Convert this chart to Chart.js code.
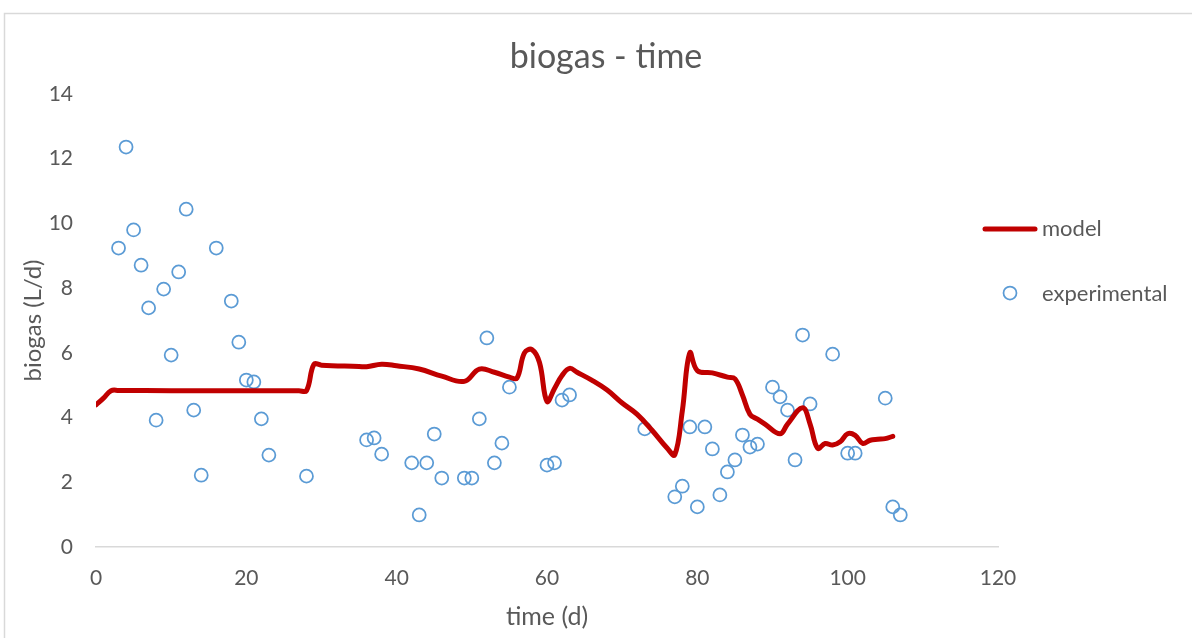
<!DOCTYPE html>
<html>
<head>
<meta charset="utf-8">
<title>biogas - time</title>
<script src="https://cdn.jsdelivr.net/npm/chart.js@4.4.1/dist/chart.umd.min.js"></script>
<style>
  html, body { margin: 0; padding: 0; background: #ffffff; }
  #chart { display: block; }
</style>
</head>
<body>
<canvas id="chart" width="1192" height="638"></canvas>
<script>
// Model curve (smoothed line)
const modelDays = [0, 1, 2, 3, 10, 20, 27, 28, 29, 30, 35, 36, 38, 40, 43, 46, 49, 51, 53, 55, 56, 57, 58, 59, 60, 61, 62, 63, 64, 66, 68, 70, 72, 74, 76, 77, 78, 79, 80, 82, 84, 85, 86, 87, 88, 89, 91, 92, 94, 95, 96, 97, 98, 99, 100, 101, 102, 103, 104, 105, 106];
const modelBiogas = [4.39, 4.6, 4.83, 4.84, 4.83, 4.83, 4.83, 4.83, 5.65, 5.62, 5.58, 5.57, 5.65, 5.6, 5.5, 5.28, 5.12, 5.5, 5.4, 5.25, 5.22, 6.0, 6.1, 5.7, 4.5, 4.9, 5.3, 5.52, 5.4, 5.15, 4.85, 4.45, 4.1, 3.6, 3.05, 2.85, 4.2, 6.0, 5.45, 5.38, 5.25, 5.2, 4.7, 4.1, 3.95, 3.8, 3.5, 3.8, 4.3, 3.8, 3.05, 3.2, 3.15, 3.25, 3.5, 3.45, 3.2, 3.3, 3.33, 3.35, 3.42];

// Experimental measurements
const expDays = [3, 4, 5, 6, 7, 8, 9, 10, 11, 12, 13, 14, 16, 18, 19, 20, 21, 22, 23, 28, 36, 37, 38, 42, 43, 44, 45, 46, 49, 50, 51, 52, 53, 54, 55, 60, 61, 62, 63, 73, 77, 78, 79, 80, 81, 82, 83, 84, 85, 86, 87, 88, 90, 91, 92, 93, 94, 95, 98, 100, 101, 105, 106, 107];
const expBiogas = [9.24, 12.36, 9.8, 8.71, 7.39, 3.92, 7.97, 5.93, 8.5, 10.44, 4.23, 2.22, 9.24, 7.6, 6.33, 5.16, 5.1, 3.96, 2.84, 2.19, 3.31, 3.37, 2.87, 2.6, 0.99, 2.6, 3.49, 2.13, 2.13, 2.13, 3.96, 6.46, 2.6, 3.21, 4.94, 2.53, 2.6, 4.54, 4.7, 3.65, 1.55, 1.88, 3.71, 1.24, 3.71, 3.03, 1.61, 2.32, 2.69, 3.46, 3.09, 3.18, 4.94, 4.64, 4.23, 2.69, 6.55, 4.42, 5.96, 2.9, 2.9, 4.6, 1.24, 0.99];

const xTicks = [0, 20, 40, 60, 80, 100, 120];
const yTicks = [0, 2, 4, 6, 8, 10, 12, 14];

const textGray = '#595959';
const lineRed = '#C00000';
const pointBlue = '#5B9BD5';
const fontFamily = 'Lato, "Open Sans", sans-serif';

// Outer frame, title and right-hand legend
const frameAndLegend = {
    id: 'frameAndLegend',
    beforeInit(chart) {
        // a tiny letter spacing keeps "ti" from being drawn as a ligature
        chart.ctx.letterSpacing = '0.2px';
    },
    beforeDraw(chart) {
        const ctx = chart.ctx;
        ctx.save();
        ctx.strokeStyle = '#d9d9d9';
        ctx.lineWidth = 1.5;
        ctx.beginPath();
        ctx.moveTo(4.5, chart.height);
        ctx.lineTo(4.5, 13.5);
        ctx.lineTo(chart.width, 13.5);
        ctx.stroke();

        ctx.fillStyle = textGray;
        ctx.font = '34px ' + fontFamily;
        ctx.textAlign = 'center';
        ctx.textBaseline = 'alphabetic';
        ctx.fillText('biogas - time', 606, 68);
        ctx.restore();
    },
    afterDraw(chart) {
        const ctx = chart.ctx;
        ctx.save();
        ctx.lineCap = 'round';
        ctx.strokeStyle = lineRed;
        ctx.lineWidth = 5;
        ctx.beginPath();
        ctx.moveTo(985, 229);
        ctx.lineTo(1035, 229);
        ctx.stroke();

        ctx.strokeStyle = pointBlue;
        ctx.lineWidth = 1.75;
        ctx.beginPath();
        ctx.arc(1010, 293, 6.5, 0, Math.PI * 2);
        ctx.stroke();

        ctx.fillStyle = textGray;
        ctx.font = '22px ' + fontFamily;
        ctx.textBaseline = 'middle';
        ctx.textAlign = 'left';
        ctx.fillText('model', 1042, 229);
        ctx.fillText('experimental', 1042, 294);
        ctx.restore();
    }
};

const ctx = document.getElementById('chart');

new Chart(ctx, {
    type: 'scatter',
    data: {
        datasets: [
            {
                type: 'line',
                label: 'model',
                data: modelDays.map((d, i) => ({ x: d, y: modelBiogas[i] })),
                borderColor: lineRed,
                borderWidth: 5,
                pointRadius: 0,
                tension: 0.4,
                fill: false,
                borderCapStyle: 'round',
                borderJoinStyle: 'round'
            },
            {
                type: 'scatter',
                label: 'experimental',
                data: expDays.map((d, i) => ({ x: d, y: expBiogas[i] })),
                borderColor: pointBlue,
                backgroundColor: 'rgba(255,255,255,0)',
                borderWidth: 1.75,
                pointRadius: 6.5,
                pointHoverRadius: 6.5
            }
        ]
    },
    options: {
        responsive: false,
        animation: false,
        devicePixelRatio: 1,
        layout: { padding: { left: 0, right: 194, top: 94, bottom: 0 } },
        plugins: {
            legend: { display: false },
            tooltip: { enabled: false },
            title: { display: false }
        },
        scales: {
            x: {
                type: 'linear',
                min: 0,
                max: 120,
                afterBuildTicks(scale) { scale.ticks = xTicks.map(v => ({ value: v })); },
                afterFit(scale) { scale.height = 91; },
                grid: { display: false, drawTicks: false },
                border: { display: true, color: '#d9d9d9', width: 1.5 },
                ticks: {
                    color: textGray,
                    padding: 19,
                    maxRotation: 0,
                    font: { family: fontFamily, size: 21 }
                },
                title: {
                    display: true,
                    text: 'time (d)',
                    color: textGray,
                    font: { family: fontFamily, size: 25 },
                    padding: { top: 0, bottom: 6 }
                }
            },
            y: {
                type: 'linear',
                min: 0,
                max: 14,
                afterBuildTicks(scale) { scale.ticks = yTicks.map(v => ({ value: v })); },
                afterFit(scale) { scale.width = 96; },
                grid: { display: false, drawTicks: false },
                border: { display: false },
                ticks: {
                    color: textGray,
                    padding: 23,
                    font: { family: fontFamily, size: 21 }
                },
                title: {
                    display: true,
                    text: 'biogas (L/d)',
                    color: textGray,
                    font: { family: fontFamily, size: 24 },
                    padding: { top: 19, bottom: 0 }
                }
            }
        }
    },
    plugins: [frameAndLegend]
});
</script>
</body>
</html>
